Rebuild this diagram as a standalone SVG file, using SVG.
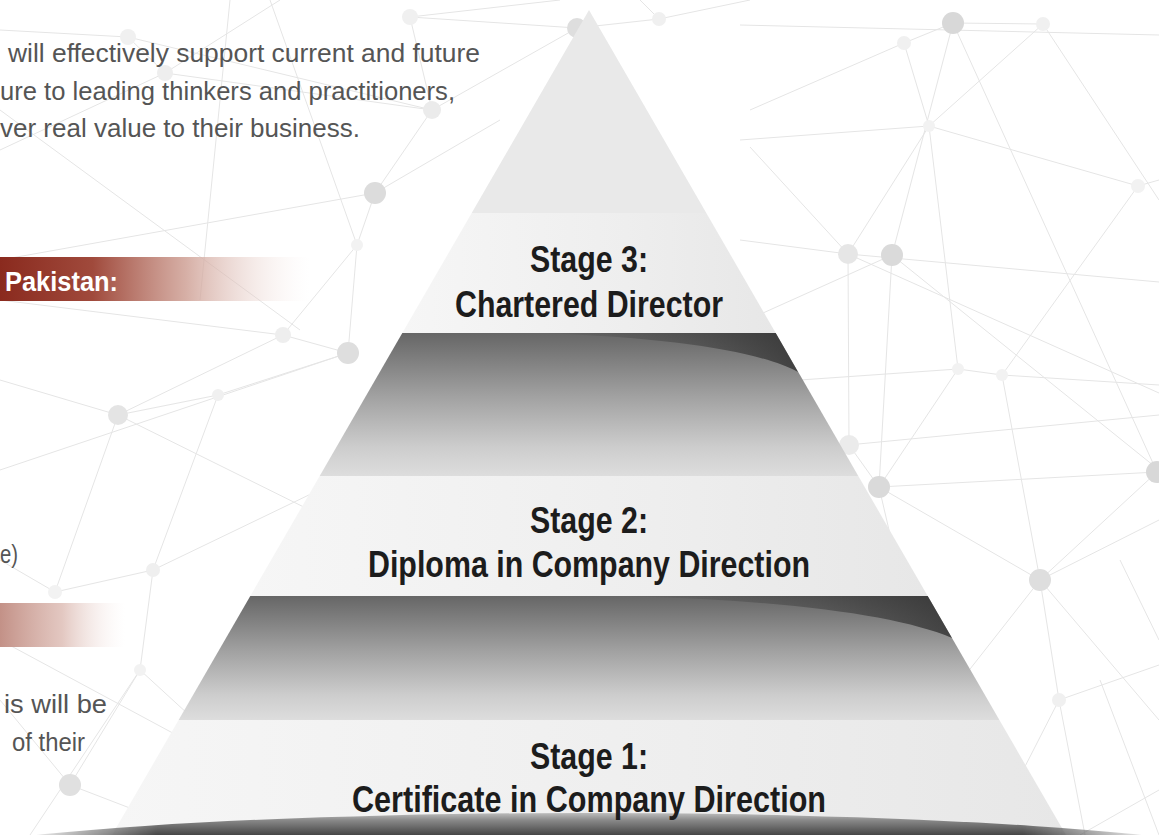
<svg xmlns="http://www.w3.org/2000/svg" width="1159" height="835" viewBox="0 0 1159 835">
<style>
.net line{stroke:#e5e5e5;stroke-width:1}
.body{font-family:"Liberation Sans",Arial,sans-serif;font-size:26px;fill:#555}
.stage{font-family:"Liberation Sans",Arial,sans-serif;font-size:36px;font-weight:bold;fill:#1c1c1c;text-anchor:middle}
.ban{font-family:"Liberation Sans",Arial,sans-serif;font-size:28px;font-weight:bold;fill:#fff}
</style>
<defs>
<linearGradient id="banner1" x1="0" y1="0" x2="1" y2="0">
<stop offset="0" stop-color="#8a2a1e"/><stop offset="0.3" stop-color="#a04a3c"/><stop offset="0.6" stop-color="#cfa196" stop-opacity="0.85"/><stop offset="1" stop-color="#f6ebe8" stop-opacity="0"/>
</linearGradient>
<linearGradient id="banner2" x1="0" y1="0" x2="1" y2="0">
<stop offset="0" stop-color="#c39187"/><stop offset="0.5" stop-color="#dcbab2" stop-opacity="0.8"/><stop offset="1" stop-color="#f7ecea" stop-opacity="0"/>
</linearGradient>
<linearGradient id="lightband" x1="0" y1="0" x2="1" y2="0">
<stop offset="0" stop-color="#f6f6f6"/><stop offset="0.6" stop-color="#eeeeee"/><stop offset="1" stop-color="#e7e7e7"/>
</linearGradient>
<linearGradient id="darkband" x1="0" y1="0" x2="0" y2="1">
<stop offset="0" stop-color="#666"/><stop offset="0.45" stop-color="#a2a2a2"/><stop offset="0.8" stop-color="#cdcdcd"/><stop offset="1" stop-color="#dddddd"/>
</linearGradient>
<linearGradient id="gloss" x1="0" y1="0" x2="1" y2="0">
<stop offset="0" stop-color="#2a2a2a" stop-opacity="0"/><stop offset="0.6" stop-color="#2a2a2a" stop-opacity="0.4"/><stop offset="1" stop-color="#2a2a2a" stop-opacity="0.75"/>
</linearGradient>
<linearGradient id="shadow" gradientUnits="userSpaceOnUse" x1="0" y1="812" x2="0" y2="835">
<stop offset="0" stop-color="#c4c4c4"/><stop offset="0.35" stop-color="#8a8a8a"/><stop offset="1" stop-color="#454545"/>
</linearGradient>
<linearGradient id="shadowfade" x1="0" y1="0" x2="1" y2="0">
<stop offset="0" stop-color="#fff" stop-opacity="0"/><stop offset="0.12" stop-color="#fff" stop-opacity="1"/><stop offset="0.88" stop-color="#fff" stop-opacity="1"/><stop offset="1" stop-color="#fff" stop-opacity="0"/>
</linearGradient>
<mask id="shmask" maskUnits="userSpaceOnUse" x="0" y="790" width="1159" height="60">
<rect x="20" y="790" width="1140" height="60" fill="url(#shadowfade)"/>
</mask>
</defs>
<rect width="1159" height="835" fill="#fff"/>
<g id="background-network" class="net">
<line x1="0" y1="30" x2="128" y2="37"/><line x1="128" y1="37" x2="432" y2="110"/><line x1="128" y1="37" x2="165" y2="73"/><line x1="165" y1="73" x2="0" y2="150"/><line x1="165" y1="73" x2="432" y2="110"/><line x1="165" y1="73" x2="280" y2="0"/><line x1="410" y1="17" x2="432" y2="110"/><line x1="410" y1="17" x2="560" y2="0"/><line x1="410" y1="17" x2="577" y2="28"/><line x1="432" y1="110" x2="375" y2="193"/><line x1="432" y1="110" x2="577" y2="28"/><line x1="375" y1="193" x2="357" y2="245"/><line x1="375" y1="193" x2="0" y2="260"/><line x1="375" y1="193" x2="500" y2="120"/><line x1="357" y1="245" x2="348" y2="353"/><line x1="357" y1="245" x2="283" y2="335"/><line x1="283" y1="335" x2="348" y2="353"/><line x1="283" y1="335" x2="118" y2="415"/><line x1="348" y1="353" x2="218" y2="395"/><line x1="218" y1="395" x2="118" y2="415"/><line x1="118" y1="415" x2="0" y2="380"/><line x1="118" y1="415" x2="55" y2="592"/><line x1="218" y1="395" x2="153" y2="570"/><line x1="153" y1="570" x2="55" y2="592"/><line x1="153" y1="570" x2="140" y2="670"/><line x1="153" y1="570" x2="340" y2="480"/><line x1="55" y1="592" x2="0" y2="560"/><line x1="140" y1="670" x2="70" y2="785"/><line x1="140" y1="670" x2="260" y2="780"/><line x1="70" y1="785" x2="0" y2="700"/><line x1="70" y1="785" x2="200" y2="835"/><line x1="0" y1="110" x2="300" y2="330"/><line x1="230" y1="0" x2="200" y2="300"/><line x1="0" y1="470" x2="348" y2="353"/><line x1="30" y1="835" x2="140" y2="670"/><line x1="0" y1="640" x2="260" y2="780"/><line x1="270" y1="0" x2="357" y2="245"/><line x1="0" y1="300" x2="283" y2="335"/><line x1="118" y1="415" x2="330" y2="520"/>
<line x1="577" y1="28" x2="659" y2="19"/><line x1="659" y1="19" x2="750" y2="0"/><line x1="659" y1="19" x2="640" y2="0"/>
<line x1="740" y1="25" x2="1159" y2="35"/><line x1="904" y1="43" x2="953" y2="23"/><line x1="750" y1="110" x2="904" y2="43"/><line x1="904" y1="43" x2="929" y2="126"/><line x1="929" y1="126" x2="1138" y2="186"/><line x1="929" y1="126" x2="1043" y2="24"/><line x1="740" y1="140" x2="929" y2="126"/><line x1="929" y1="126" x2="958" y2="369"/><line x1="929" y1="126" x2="848" y2="254"/><line x1="953" y1="23" x2="892" y2="255"/><line x1="953" y1="23" x2="1157" y2="472"/><line x1="953" y1="23" x2="1043" y2="24"/><line x1="1043" y1="24" x2="1159" y2="200"/><line x1="1138" y1="186" x2="1002" y2="375"/><line x1="1138" y1="186" x2="1159" y2="180"/><line x1="740" y1="240" x2="848" y2="254"/><line x1="848" y1="254" x2="1159" y2="282"/><line x1="892" y1="255" x2="1159" y2="470"/><line x1="892" y1="255" x2="879" y2="487"/><line x1="848" y1="254" x2="849" y2="445"/><line x1="750" y1="147" x2="848" y2="254"/><line x1="763" y1="313" x2="892" y2="255"/><line x1="848" y1="254" x2="1159" y2="393"/><line x1="958" y1="369" x2="1002" y2="375"/><line x1="800" y1="380" x2="958" y2="369"/><line x1="1002" y1="375" x2="1159" y2="385"/><line x1="958" y1="369" x2="879" y2="487"/><line x1="1002" y1="375" x2="1040" y2="580"/><line x1="848" y1="445" x2="1159" y2="415"/><line x1="879" y1="487" x2="1157" y2="472"/><line x1="879" y1="487" x2="1040" y2="580"/><line x1="849" y1="445" x2="879" y2="487"/><line x1="1040" y1="580" x2="1159" y2="520"/><line x1="1040" y1="580" x2="1059" y2="700"/><line x1="1040" y1="580" x2="1159" y2="720"/><line x1="1059" y1="700" x2="1159" y2="665"/><line x1="1059" y1="700" x2="1085" y2="835"/><line x1="1059" y1="700" x2="990" y2="835"/><line x1="1100" y1="680" x2="1159" y2="835"/><line x1="879" y1="487" x2="960" y2="835"/><line x1="1040" y1="580" x2="930" y2="720"/><line x1="1157" y1="472" x2="1040" y2="580"/><line x1="1120" y1="560" x2="1159" y2="640"/><line x1="1080" y1="835" x2="1159" y2="790"/>
</g>
<g id="background-dots">
<circle cx="128" cy="37" r="8" fill="#f0f0f0"/><circle cx="165" cy="73" r="8" fill="#eeeeee"/><circle cx="410" cy="17" r="8" fill="#f0f0f0"/><circle cx="432" cy="110" r="9" fill="#ebebeb"/><circle cx="375" cy="193" r="11" fill="#dcdcdc"/><circle cx="357" cy="245" r="6" fill="#f2f2f2"/><circle cx="283" cy="335" r="8" fill="#eeeeee"/><circle cx="348" cy="353" r="11" fill="#dedede"/><circle cx="118" cy="415" r="10" fill="#e4e4e4"/><circle cx="218" cy="395" r="6" fill="#f0f0f0"/><circle cx="55" cy="592" r="7" fill="#f2f2f2"/><circle cx="153" cy="570" r="7" fill="#efefef"/><circle cx="140" cy="670" r="6" fill="#f2f2f2"/><circle cx="70" cy="785" r="11" fill="#e0e0e0"/><circle cx="577" cy="28" r="10" fill="#dedede"/><circle cx="659" cy="19" r="7" fill="#f0f0f0"/>
<circle cx="953" cy="23" r="11" fill="#d8d8d8"/><circle cx="1043" cy="24" r="7" fill="#f0f0f0"/><circle cx="904" cy="43" r="7" fill="#f0f0f0"/><circle cx="929" cy="126" r="6" fill="#f2f2f2"/><circle cx="1138" cy="186" r="7" fill="#f2f2f2"/><circle cx="848" cy="254" r="10" fill="#e6e6e6"/><circle cx="892" cy="255" r="11" fill="#dadada"/><circle cx="958" cy="369" r="6" fill="#f2f2f2"/><circle cx="1002" cy="375" r="6" fill="#f2f2f2"/><circle cx="849" cy="445" r="10" fill="#ebebeb"/><circle cx="879" cy="487" r="11" fill="#dadada"/><circle cx="1157" cy="472" r="11" fill="#d8d8d8"/><circle cx="1040" cy="580" r="11" fill="#dedede"/><circle cx="1059" cy="700" r="7" fill="#f0f0f0"/>
</g>
<g id="intro-text">
<text class="body" x="8" y="62" textLength="472" lengthAdjust="spacingAndGlyphs">will effectively support current and future</text>
<text class="body" x="0" y="100" textLength="455" lengthAdjust="spacingAndGlyphs">ure to leading thinkers and practitioners,</text>
<text class="body" x="0" y="137" textLength="360" lengthAdjust="spacingAndGlyphs">ver real value to their business.</text>
</g>
<g id="banner-pakistan">
<rect x="0" y="257" width="310" height="44" fill="url(#banner1)"/>
<text class="ban" x="5" y="291" textLength="113" lengthAdjust="spacingAndGlyphs">Pakistan:</text>
</g>
<g id="left-text-2">
<text class="body" x="0" y="563" textLength="18" lengthAdjust="spacingAndGlyphs">e)</text>
</g>
<g id="banner-2">
<rect x="0" y="603" width="125" height="44" fill="url(#banner2)"/>
</g>
<g id="left-text-3">
<text class="body" x="4" y="713" textLength="103" lengthAdjust="spacingAndGlyphs">is will be</text>
<text class="body" x="12" y="751" textLength="73" lengthAdjust="spacingAndGlyphs">of their</text>
</g>
<g id="pyramid">
<g id="apex"><path d="M589,10 L706.3,213 L471.7,213 Z" fill="#e9e9e9"/></g>
<g id="stage3">
<path d="M471.7,213 L706.3,213 L775.7,333 L402.3,333 Z" fill="url(#lightband)"/>
<text class="stage" x="589" y="272" textLength="118" lengthAdjust="spacingAndGlyphs">Stage 3:</text>
<text class="stage" x="589" y="317" textLength="268" lengthAdjust="spacingAndGlyphs">Chartered Director</text>
</g>
<g id="divider-a">
<path d="M402.3,333 L775.7,333 L858.3,476 L319.7,476 Z" fill="url(#darkband)"/>
<path d="M540,333 L775.7,333 L798,372 C760,352 680,338 540,333 Z" fill="url(#gloss)"/>
</g>
<g id="stage2">
<path d="M319.7,476 L858.3,476 L927.7,596 L250.3,596 Z" fill="url(#lightband)"/>
<text class="stage" x="589" y="533" textLength="118" lengthAdjust="spacingAndGlyphs">Stage 2:</text>
<text class="stage" x="589" y="577" textLength="442" lengthAdjust="spacingAndGlyphs">Diploma in Company Direction</text>
</g>
<g id="divider-b">
<path d="M250.3,596 L927.7,596 L999.4,720 L178.6,720 Z" fill="url(#darkband)"/>
<path d="M620,596 L927.7,596 L952,638 C900,616 790,600 620,596 Z" fill="url(#gloss)"/>
</g>
<g id="stage1">
<path d="M178.6,720 L999.4,720 L1066,835 L112,835 Z" fill="url(#lightband)"/>
<g id="base-shadow" mask="url(#shmask)">
<ellipse cx="589" cy="870" rx="700" ry="57" fill="url(#shadow)"/>
</g>
<text class="stage" x="589" y="769" textLength="118" lengthAdjust="spacingAndGlyphs">Stage 1:</text>
<text class="stage" x="589" y="812" textLength="474" lengthAdjust="spacingAndGlyphs">Certificate in Company Direction</text>
</g>
</g>
</svg>
